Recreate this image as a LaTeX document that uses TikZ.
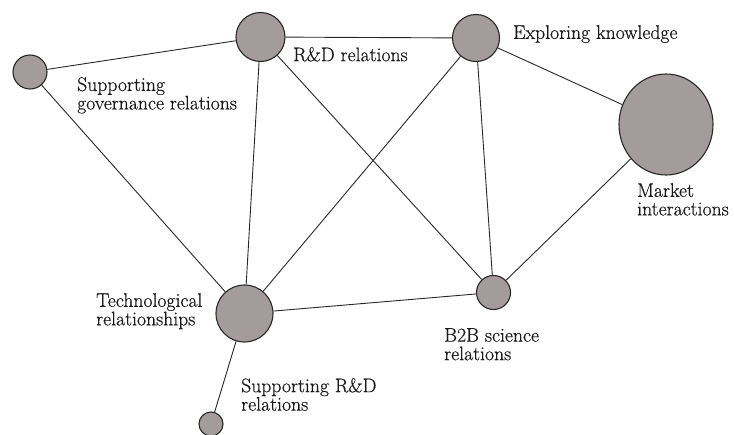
\documentclass[tikz,border=0pt]{standalone}
\usepackage{fontspec}
\newfontfamily\labelfont{Latin Modern Roman}[UprightFeatures={FakeBold=0.5}]
\usetikzlibrary{shapes.geometric}
\definecolor{nodefill}{RGB}{164,156,156}
\definecolor{edgecol}{RGB}{40,40,40}
\begin{document}
\begin{tikzpicture}[x=1pt,y=-1pt,
  dot/.style={circle,draw=edgecol,line width=1.1pt,fill=nodefill,inner sep=0pt,minimum size=#1},
  lbl/.style={anchor=north west,inner sep=0pt,align=left,font=\labelfont\fontsize{19.7}{18.5}\selectfont,text=black!90},
  edge/.style={draw=edgecol,line width=0.9pt}]
\useasboundingbox (0,0) rectangle (734,434);
\fill[white] (0,0) rectangle (734,434);
% nodes
\node[dot=34pt] (gov) at (30,72) {};
\node[dot=49pt] (rd) at (260.5,37) {};
\node[dot=47pt] (exp) at (476,38) {};
\node[ellipse,draw=edgecol,line width=1.1pt,fill=nodefill,inner sep=0pt,minimum width=94pt,minimum height=101pt] (mkt) at (666,124.5) {};
\node[dot=34pt] (b2b) at (493.5,292.5) {};
\node[dot=57pt] (tech) at (244.5,313.5) {};
\node[dot=24pt] (srd) at (211,424) {};
% edges
\draw[edge] (gov) -- (rd);
\draw[edge] (gov) -- (tech);
\draw[edge] (rd) -- (exp);
\draw[edge] (rd) -- (tech);
\draw[edge] (rd) -- (b2b);
\draw[edge] (exp) -- (tech);
\draw[edge] (exp) -- (b2b);
\draw[edge] (exp) -- (mkt);
\draw[edge] (mkt) -- (b2b);
\draw[edge] (tech) -- (b2b);
\draw[edge] (tech) -- (srd);
% labels
\node[lbl] (lgov) at (77,77) {Supporting\\governance relations};
\node[lbl] (lrd) at (293,47) {R\&D relations};
\node[lbl] (lexp) at (513,25) {Exploring knowledge};
\node[lbl] (lmkt) at (637,183) {Market\\interactions};
\node[lbl] (ltech) at (96,293) {Technological\\relationships};
\node[lbl] (lsrd) at (241,378) {Supporting R\&D\\relations};
\node[lbl] (lb2b) at (444,328) {B2B science\\relations};
\end{tikzpicture}
\end{document}
